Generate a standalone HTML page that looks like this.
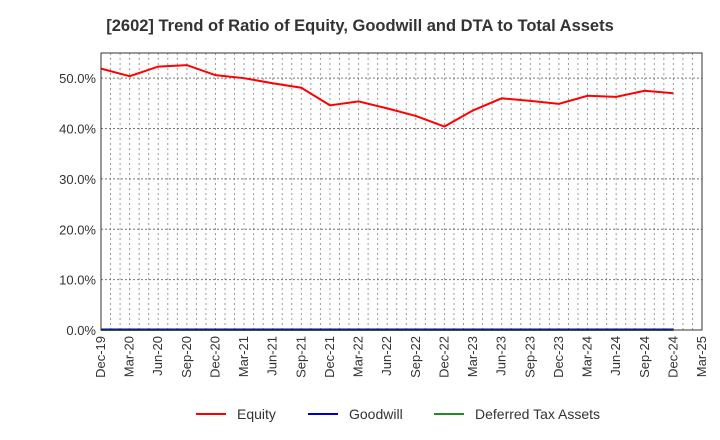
<!DOCTYPE html>
<html><head><meta charset="utf-8"><style>
html,body{margin:0;padding:0;background:#fff;}
svg{display:block;font-family:"Liberation Sans",Arial,sans-serif;}
</style></head><body>
<svg id="chart" width="720" height="440" xmlns="http://www.w3.org/2000/svg">
<text x="360" y="31" text-anchor="middle" font-size="16.5" font-weight="bold" fill="#333">[2602]  Trend of Ratio of Equity, Goodwill and DTA to Total Assets</text>
<g id="grid"></g><g id="series"></g><g id="axes"></g>
<g>
<line x1="196" y1="414" x2="226" y2="414" stroke="#ff0000" stroke-width="2"/>
<text x="237" y="419" font-size="14" fill="#333">Equity</text>
<line x1="308" y1="414" x2="338" y2="414" stroke="#0000cc" stroke-width="2"/>
<text x="349" y="419" font-size="14" fill="#333">Goodwill</text>
<line x1="434" y1="414" x2="464" y2="414" stroke="#228b22" stroke-width="2"/>
<text x="475" y="419" font-size="14" fill="#333">Deferred Tax Assets</text>
</g>
</svg>
<script>
const categories=["Dec-19","Mar-20","Jun-20","Sep-20","Dec-20","Mar-21","Jun-21","Sep-21","Dec-21","Mar-22","Jun-22","Sep-22","Dec-22","Mar-23","Jun-23","Sep-23","Dec-23","Mar-24","Jun-24","Sep-24","Dec-24","Mar-25"];
const equity=[51.9,50.4,52.3,52.6,50.6,50.0,49.0,48.1,44.6,45.4,44.0,42.5,40.4,43.6,46.0,45.5,44.9,46.5,46.3,47.5,47.0];
const goodwill=[0.1,0.1,0.1,0.1,0.1,0.1,0.1,0.1,0.1,0.1,0.1,0.1,0.1,0.1,0.1,0.1,0.1,0.1,0.1,0.1,0.1];
const dta=[0,0,0,0,0,0,0,0,0,0,0,0,0,0,0,0,0,0,0,0,0];
const yTicks=[0,10,20,30,40,50];
const L=101,R=702,T=53,B=330,yMax=55;
const NS="http://www.w3.org/2000/svg";
const xq=i=>L+(R-L)*i/(categories.length-1);
const y=v=>B-(B-T)*v/yMax;
function mk(tag,attrs,parent){const e=document.createElementNS(NS,tag);for(const k in attrs)e.setAttribute(k,attrs[k]);parent.appendChild(e);return e;}
const grid=document.getElementById('grid'),axes=document.getElementById('axes'),series=document.getElementById('series');
const months=(categories.length-1)*3;
for(let m=1;m<months;m++){const x=L+(R-L)*m/months;const g=mk('line',{x1:x,x2:x,y1:T,y2:B,stroke:'#999','stroke-dasharray':'2,3','stroke-width':1},grid);

}
yTicks.forEach(t=>{if(t>0){const g=mk('line',{x1:L,x2:R,y1:y(t),y2:y(t),stroke:'#777','stroke-dasharray':'2,2','stroke-width':1},grid);

}
const tx=mk('text',{x:L-5,y:y(t)+5,'text-anchor':'end','font-size':13,fill:'#333'},axes);tx.textContent=t.toFixed(1)+'%';

});
const fr=mk('rect',{x:L,y:T,width:R-L,height:B-T,fill:'none',stroke:'#333','stroke-width':1},axes);


categories.forEach((c,i)=>{const x=xq(i);const tx=mk('text',{x:x+4,y:B+6,'text-anchor':'end','font-size':13,fill:'#333',transform:`rotate(-90 ${x+4} ${B+6})`},axes);tx.textContent=c;

});
function line(data,color,name){const p=mk('polyline',{points:data.map((v,i)=>xq(i)+','+y(v)).join(' '),fill:'none',stroke:color,'stroke-width':2},series);

}
line(dta,'#228b22','dta-line');
line(goodwill,'#0000cc','goodwill-line');
line(equity,'#ff0000','equity-line');
</script>
</body></html>
